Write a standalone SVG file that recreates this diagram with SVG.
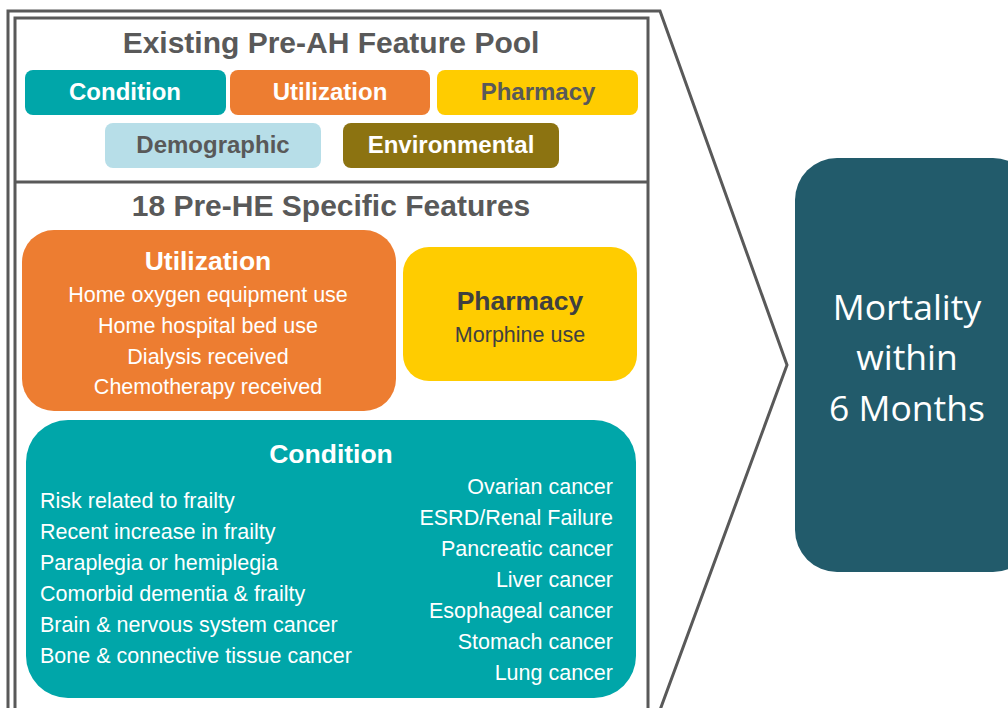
<svg xmlns="http://www.w3.org/2000/svg" width="1008" height="708" viewBox="0 0 1008 708">
<style>
.h{font-family:"Liberation Sans",Arial,sans-serif;font-weight:bold;fill:#595959;font-size:30px;text-anchor:middle;}
.tag{font-family:"Liberation Sans",Arial,sans-serif;font-weight:bold;font-size:24px;text-anchor:middle;}
.bt{font-family:"Liberation Sans",Arial,sans-serif;font-weight:bold;font-size:26.5px;text-anchor:middle;}
.it{font-family:"Liberation Sans",Arial,sans-serif;font-size:21.5px;fill:#fff;}
.frame{fill:none;stroke:#595959;stroke-width:3;}
</style>
<rect width="1008" height="708" fill="#fff"/>
<g id="connectors">
<polyline class="frame" points="8,710 8,11 660,11 787,365 660,710"/>
</g>
<g id="panel">
<rect class="frame" x="15" y="18" width="633" height="695"/>
<line class="frame" x1="15" y1="182" x2="648" y2="182"/>
</g>
<g id="pool">
<text class="h" x="331" y="53">Existing Pre-AH Feature Pool</text>
<g id="pool-condition"><rect x="25" y="70" width="201" height="45" rx="8" fill="#00A6A9"/><text class="tag" x="125" y="100" fill="#fff">Condition</text></g>
<g id="pool-utilization"><rect x="230" y="70" width="200" height="45" rx="8" fill="#ED7D31"/><text class="tag" x="330" y="100" fill="#fff">Utilization</text></g>
<g id="pool-pharmacy"><rect x="437" y="70" width="201" height="45" rx="8" fill="#FFCC00"/><text class="tag" x="538" y="100" fill="#595959">Pharmacy</text></g>
<g id="pool-demographic"><rect x="105" y="123" width="216" height="45" rx="8" fill="#B7DEE8"/><text class="tag" x="213" y="153" fill="#595959">Demographic</text></g>
<g id="pool-environmental"><rect x="343" y="123" width="216" height="45" rx="8" fill="#8C7311"/><text class="tag" x="451" y="153" fill="#fff">Environmental</text></g>
</g>
<g id="specific">
<text class="h" x="331" y="216">18 Pre-HE Specific Features</text>
<g id="utilization">
<rect x="22" y="230" width="374" height="181" rx="32" fill="#ED7D31"/>
<text class="bt" x="208" y="270" fill="#fff">Utilization</text>
<g class="it" text-anchor="middle">
<text x="208" y="302">Home oxygen equipment use</text>
<text x="208" y="333">Home hospital bed use</text>
<text x="208" y="364">Dialysis received</text>
<text x="208" y="394">Chemotherapy received</text>
</g>
</g>
<g id="pharmacy">
<rect x="403" y="247" width="234" height="134" rx="26" fill="#FFCC00"/>
<text class="bt" x="520" y="310" fill="#404040">Pharmacy</text>
<text class="it" x="520" y="342" text-anchor="middle" style="fill:#404040">Morphine use</text>
</g>
<g id="condition">
<rect x="26" y="420" width="610" height="278" rx="42" fill="#00A6A9"/>
<text class="bt" x="331" y="463" fill="#fff">Condition</text>
<g class="it">
<text x="40" y="508">Risk related to frailty</text>
<text x="40" y="539">Recent increase in frailty</text>
<text x="40" y="570">Paraplegia or hemiplegia</text>
<text x="40" y="601">Comorbid dementia &amp; frailty</text>
<text x="40" y="632">Brain &amp; nervous system cancer</text>
<text x="40" y="663">Bone &amp; connective tissue cancer</text>
</g>
<g class="it" text-anchor="end">
<text x="613" y="494">Ovarian cancer</text>
<text x="613" y="525">ESRD/Renal Failure</text>
<text x="613" y="556">Pancreatic cancer</text>
<text x="613" y="587">Liver cancer</text>
<text x="613" y="618">Esophageal cancer</text>
<text x="613" y="649">Stomach cancer</text>
<text x="613" y="680">Lung cancer</text>
</g>
</g>
</g>
<g id="mortality">
<rect x="795" y="158" width="240" height="414" rx="42" fill="#225B6B"/>
<g style="font-family:'Open Sans',sans-serif;font-size:35.5px;fill:#fff" text-anchor="middle">
<text x="907" y="320">Mortality</text>
<text x="907" y="370">within</text>
<text x="907" y="421">6 Months</text>
</g>
</g>
</svg>
